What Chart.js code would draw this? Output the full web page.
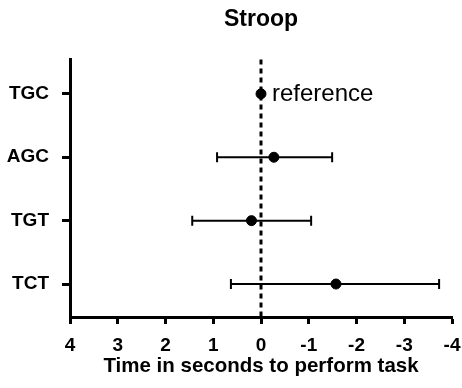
<!DOCTYPE html>
<html>
<head>
<meta charset="utf-8">
<script src="https://cdn.jsdelivr.net/npm/chart.js@4"></script>
<style>
  html, body { margin: 0; padding: 0; background: #fff; }
  #wrap { width: 462px; height: 388px; }
</style>
</head>
<body>
<div id="wrap"><canvas id="stroopChart"></canvas></div>
<script>
/* --- DATA --- */
const GROUPS = ['TGC', 'AGC', 'TGT', 'TCT'];
const MEANS = [0, -0.27, 0.20, -1.57];
const CI_LOW = [null, 0.92, 1.44, 0.63];
const CI_HIGH = [null, -1.49, -1.05, -3.73];
const X_TICKS = [4, 3, 2, 1, 0, -1, -2, -3, -4];
const REF_LABEL = 'reference';

const FONT = "'Liberation Sans', Arial, sans-serif";

// error bars, dashed zero line and the reference note
const forestPlugin = {
  id: 'forest',
  beforeDatasetsDraw(chart) {
    const { ctx, chartArea, scales: { x, y } } = chart;
    ctx.save();
    ctx.strokeStyle = '#000';
    ctx.lineWidth = 2;
    GROUPS.forEach((g, i) => {
      if (CI_LOW[i] === null) return;
      const py = y.getPixelForValue(i + 1);
      const x1 = x.getPixelForValue(CI_LOW[i]);
      const x2 = x.getPixelForValue(CI_HIGH[i]);
      ctx.beginPath();
      ctx.moveTo(x1, py); ctx.lineTo(x2, py);
      ctx.moveTo(x1, py - 5); ctx.lineTo(x1, py + 5);
      ctx.moveTo(x2, py - 5); ctx.lineTo(x2, py + 5);
      ctx.stroke();
    });
    // zero line
    const zx = x.getPixelForValue(0);
    ctx.lineWidth = 3;
    ctx.setLineDash([5, 4]);
    ctx.beginPath();
    ctx.moveTo(zx, chartArea.top);
    ctx.lineTo(zx, chartArea.bottom + 1);
    ctx.stroke();
    ctx.restore();
  },
  afterDatasetsDraw(chart) {
    const { ctx, scales: { x, y } } = chart;
    ctx.save();
    ctx.fillStyle = '#000';
    ctx.font = '24px ' + FONT;
    ctx.textBaseline = 'middle';
    ctx.fillText(REF_LABEL, x.getPixelForValue(MEANS[0]) + 11, y.getPixelForValue(1) + 1);
    ctx.restore();
  }
};

new Chart(document.getElementById('stroopChart'), {
  type: 'scatter',
  data: {
    datasets: [{
      data: MEANS.map((m, i) => ({ x: m, y: i + 1 })),
      backgroundColor: '#000',
      borderColor: '#000',
      pointRadius: 5,
      pointHoverRadius: 5
    }]
  },
  options: {
    responsive: true,
    maintainAspectRatio: false,
    animation: false,
    layout: { padding: { left: 0, right: 0, top: 0, bottom: 0 } },
    plugins: {
      legend: { display: false },
      tooltip: { enabled: false },
      title: {
        display: true,
        text: 'Stroop',
        fullSize: false,
        color: '#000',
        font: { family: FONT, size: 23, weight: 'bold' },
        padding: { top: 6, bottom: 26 }
      }
    },
    scales: {
      x: {
        type: 'linear',
        reverse: true,
        min: -4,
        max: 4,
        afterBuildTicks: s => { s.ticks = X_TICKS.map(v => ({ value: v })); },
        afterFit: s => { s.height = 71; s.paddingRight = 10; },
        grid: { drawOnChartArea: false, tickLength: 7, tickWidth: 3, tickColor: '#000' },
        border: { width: 3, color: '#000' },
        ticks: {
          color: '#000',
          padding: 10,
          font: { family: FONT, size: 19, weight: 'bold' }
        },
        title: {
          display: true,
          text: 'Time in seconds to perform task',
          color: '#000',
          font: { family: FONT, size: 20.5, weight: 'bold' },
          padding: { top: 0, bottom: 9 }
        }
      },
      y: {
        type: 'linear',
        reverse: true,
        min: 0.46,
        max: 4.52,
        afterBuildTicks: s => { s.ticks = GROUPS.map((g, i) => ({ value: i + 1 })); },
        afterFit: s => { s.width = 70; },
        grid: { drawOnChartArea: false, tickLength: 8, tickWidth: 3, tickColor: '#000' },
        border: { width: 3, color: '#000' },
        ticks: {
          color: '#000',
          padding: 13,
          font: { family: FONT, size: 19, weight: 'bold' },
          callback: v => GROUPS[v - 1] ?? ''
        }
      }
    }
  },
  plugins: [forestPlugin]
});
</script>
</body>
</html>
